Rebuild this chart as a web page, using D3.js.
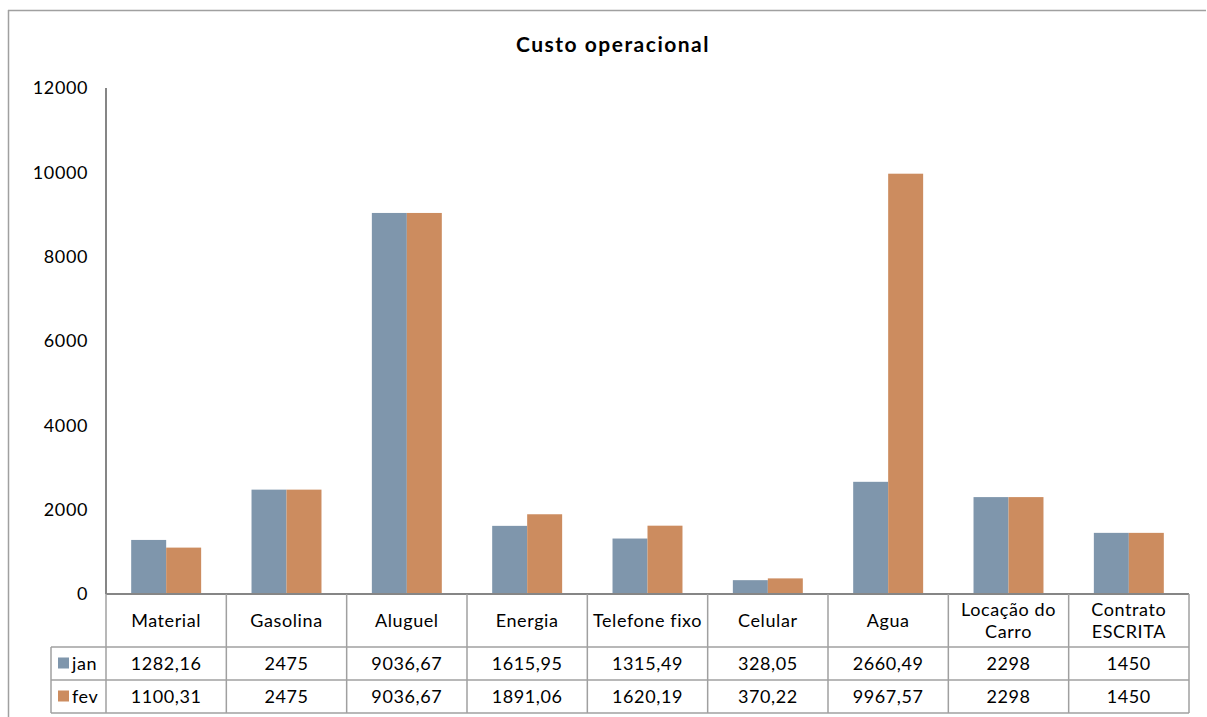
<!DOCTYPE html>
<html><head><meta charset="utf-8">
<script src="https://cdn.jsdelivr.net/npm/d3@7"></script>
<style>body{margin:0;background:#fff}svg{display:block}</style>
</head><body>
<script>
const categories = ["Material","Gasolina","Aluguel","Energia","Telefone fixo","Celular","Agua","Locação do Carro","Contrato ESCRITA"];
const categoryLines = [["Material"],["Gasolina"],["Aluguel"],["Energia"],["Telefone fixo"],["Celular"],["Agua"],["Locação do","Carro"],["Contrato","ESCRITA"]];
const seriesNames = ["jan","fev"];
const jan = [1282.16,2475,9036.67,1615.95,1315.49,328.05,2660.49,2298,1450];
const fev = [1100.31,2475,9036.67,1891.06,1620.19,370.22,9967.57,2298,1450];
const janLabels = ["1282,16","2475","9036,67","1615,95","1315,49","328,05","2660,49","2298","1450"];
const fevLabels = ["1100,31","2475","9036,67","1891,06","1620,19","370,22","9967,57","2298","1450"];
const yTicks = [0,2000,4000,6000,8000,10000,12000];
const colors = ["#7f96ac","#cc8c5f"];

const W=1207,H=717;
const font="Lato, 'Open Sans', sans-serif";
const ls="0.6px";
const svg=d3.select("body").append("svg").attr("width",W).attr("height",H);
const lineCol="#a0a0a0";

// outer frame
svg.append("line").attr("x1",8.5).attr("x2",8.5).attr("y1",10).attr("y2",H).attr("stroke",lineCol).attr("stroke-width",1.5);
svg.append("line").attr("x1",8).attr("x2",1206).attr("y1",10.5).attr("y2",10.5).attr("stroke",lineCol).attr("stroke-width",1.5);

svg.append("text").attr("x",613).attr("y",52).attr("text-anchor","middle")
  .attr("font-family",font).attr("font-weight","bold").attr("font-size",21).attr("letter-spacing","1.5px").attr("fill","#000").text("Custo operacional");

const x0=106,x1=1189,yTop=88,yBot=594;
const x=d3.scaleBand().domain(categories).range([x0,x1]).paddingInner(0).paddingOuter(0);
const xs=d3.scaleBand().domain(seriesNames).range([0,x.bandwidth()]).paddingInner(0).paddingOuter(0.72);
const y=d3.scaleLinear().domain([0,12000]).range([yBot,yTop]);

const data=categories.map((c,i)=>({c,vals:[jan[i],fev[i]]}));
const g=svg.append("g");
g.selectAll("g.cat").data(data).join("g").attr("class","cat")
 .attr("transform",d=>`translate(${x(d.c)},0)`)
 .selectAll("rect").data(d=>d.vals.map((v,k)=>({v,k}))).join("rect")
 .attr("x",d=>xs(seriesNames[d.k])).attr("width",xs.bandwidth())
 .attr("y",d=>y(d.v)).attr("height",d=>yBot-y(d.v)).attr("fill",d=>colors[d.k]);

// y axis
const yAxis=d3.axisLeft(y).tickValues(yTicks).tickSize(0).tickPadding(18).tickFormat(d3.format("d"));
const ya=svg.append("g").attr("transform",`translate(${x0},0)`).call(yAxis);
ya.select(".domain").remove();
ya.selectAll("text").attr("font-family",font).attr("font-size",18).attr("letter-spacing",ls).attr("fill","#000");
svg.append("line").attr("x1",x0).attr("x2",x0).attr("y1",yTop).attr("y2",yBot).attr("stroke","#868686").attr("stroke-width",2);
svg.append("line").attr("x1",x0).attr("x2",x1).attr("y1",yBot).attr("y2",yBot).attr("stroke","#868686").attr("stroke-width",2);

// data table
const rHead=647,rJan=680,rFev=713,legX=51;
const t=svg.append("g").attr("stroke",lineCol).attr("stroke-width",1.5);
[...categories.map(c=>x(c)),x1].forEach(v=>{
  t.append("line").attr("x1",v).attr("x2",v).attr("y1",yBot).attr("y2",rFev);
});
t.append("line").attr("x1",legX).attr("x2",legX).attr("y1",rHead).attr("y2",rFev);
[rHead,rJan,rFev].forEach(v=>{
  t.append("line").attr("x1",legX).attr("x2",x1).attr("y1",v).attr("y2",v);
});
const txt=svg.append("g").attr("font-family",font).attr("font-size",18).attr("letter-spacing",ls).attr("fill","#000").attr("text-anchor","middle");
categoryLines.forEach((lines,i)=>{
  const cx=x(categories[i])+x.bandwidth()/2;
  const cy=(yBot+rHead)/2;
  lines.forEach((l,j)=>{
    txt.append("text").attr("x",cx).attr("y",cy+(j-(lines.length-1)/2)*22).attr("dy","0.35em").text(l);
  });
  txt.append("text").attr("x",cx).attr("y",(rHead+rJan)/2).attr("dy","0.35em").text(janLabels[i]);
  txt.append("text").attr("x",cx).attr("y",(rJan+rFev)/2).attr("dy","0.35em").text(fevLabels[i]);
});
seriesNames.forEach((s,k)=>{
  const cy=k===0?(rHead+rJan)/2:(rJan+rFev)/2;
  svg.append("rect").attr("x",58).attr("y",cy-6).attr("width",11).attr("height",11).attr("fill",colors[k]);
  svg.append("text").attr("x",72).attr("y",cy).attr("dy","0.35em").attr("font-family",font).attr("font-size",18).attr("letter-spacing",ls).text(s);
});
</script>
</body></html>
